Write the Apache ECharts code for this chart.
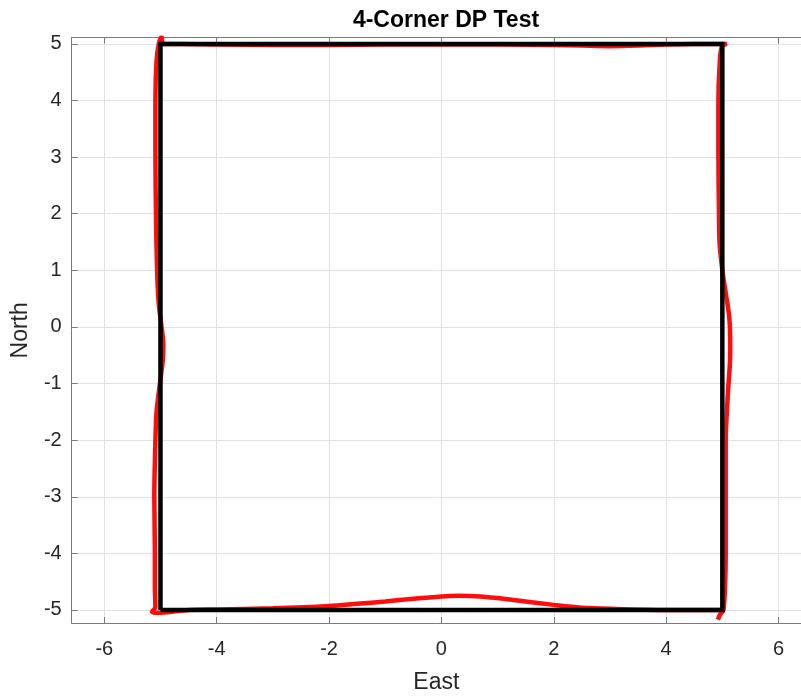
<!DOCTYPE html>
<html>
<head>
<meta charset="utf-8">
<script src="https://cdn.jsdelivr.net/npm/echarts@6/dist/echarts.min.js"></script>
<style>
html,body{margin:0;padding:0;background:#fff;}
#chart{width:801px;height:697px;}
</style>
</head>
<body>
<div id="chart"></div>
<script>
// Reference square (black)
const refEast  = [-5, -5, 5, 5, -5];
const refNorth = [-5, 5, 5, -5, -5];

// Measured trajectory (red)
const redEast = [4.92, 4.96, 5.02, 5.05, 5.06, 5.06, 5.06, 5.08, 5.11, 5.14, 5.14, 5.12, 5.06, 5.0, 4.95, 4.94, 4.93, 4.93, 4.95, 4.99, 5.08,
  5.0, 4.5, 4.0, 3.5, 3.0, 2.5, 2.0, 1.0, 0.0, -1.0, -2.0, -3.0, -4.0, -4.6, -4.95, -4.98, -5.03,
  -5.07, -5.09, -5.09, -5.08, -5.06, -5.03, -4.98, -4.95, -4.96, -5.01, -5.07, -5.09, -5.11, -5.10, -5.10, -5.09, -5.15, -5.05,
  -4.5, -4.0, -3.0, -2.0, -1.5, -1.0, -0.5, 0.0, 0.3, 0.7, 1.0, 1.5, 2.0, 2.5, 3.0, 4.0, 5.0];
const redNorth = [-5.17, -5.08, -5.0, -4.5, -4.0, -3.0, -2.0, -1.5, -1.0, -0.5, -0.2, 0.2, 0.6, 1.0, 1.5, 2.0, 3.0, 4.0, 4.6, 4.95, 5.0,
  5.0, 5.0, 4.99, 4.97, 4.96, 4.97, 4.98, 4.99, 4.99, 4.99, 4.98, 4.98, 4.99, 5.0, 5.0, 5.12, 5.0,
  4.7, 4.0, 3.0, 2.0, 1.0, 0.4, 0.0, -0.3, -0.6, -1.0, -1.5, -2.0, -3.0, -4.0, -4.6, -4.95, -5.03, -5.05,
  -5.0, -4.99, -4.97, -4.93, -4.89, -4.85, -4.8, -4.76, -4.75, -4.76, -4.79, -4.85, -4.91, -4.96, -4.98, -5.0, -5.0];

const titleText = '4-Corner DP Test';
const xName = 'East';
const yName = 'North';
const xMin = -6.58, xMax = 6.40;
const yMin = -5.23, yMax = 5.11;

const pair = (a, b) => a.map((v, i) => [v, b[i]]);

const font = '"Liberation Sans", Arial, Helvetica, sans-serif';
const axisColor = '#7a7a7a';
const textColor = '#262626';
const isInt = v => Math.abs(v - Math.round(v)) < 1e-6;

const chart = echarts.init(document.getElementById('chart'));
chart.setOption({
  animation: false,
  backgroundColor: '#fff',
  title: {
    text: titleText, left: 441, top: 4, textAlign: 'center',
    textStyle: {fontFamily: font, fontSize: 23, fontWeight: 'bold', color: '#000'}
  },
  grid: {left: 71.7, top: 37.7, right: 0, bottom: 74, containLabel: false, outerBoundsMode: 'none'},
  xAxis: [{
    type: 'value', min: xMin, max: xMax, minInterval: 2, maxInterval: 2, splitNumber: 6,
    position: 'bottom',
    name: xName, nameLocation: 'middle', nameGap: 48,
    nameTextStyle: {fontFamily: font, fontSize: 23, color: textColor},
    axisLine: {show: true, onZero: false, lineStyle: {color: axisColor, width: 1}},
    axisTick: {show: true, inside: true, length: 6, lineStyle: {color: axisColor}},
    axisLabel: {fontFamily: font, fontSize: 20, color: textColor, margin: 16, showMinLabel: false, showMaxLabel: false,
      formatter: v => isInt(v) ? String(v) : ''},
    splitLine: {show: true, lineStyle: {color: '#e2e2e2', width: 1}}
  }, {
    type: 'value', min: xMin, max: xMax, minInterval: 2, maxInterval: 2, splitNumber: 6,
    position: 'top',
    axisLine: {show: true, onZero: false, lineStyle: {color: axisColor, width: 1}},
    axisTick: {show: true, inside: true, length: 6, lineStyle: {color: axisColor}},
    axisLabel: {show: false},
    splitLine: {show: false}
  }],
  yAxis: [{
    type: 'value', min: yMin, max: yMax, minInterval: 1, maxInterval: 1, splitNumber: 10,
    position: 'left',
    name: yName, nameLocation: 'middle', nameGap: 40,
    nameTextStyle: {fontFamily: font, fontSize: 23, color: textColor},
    axisLine: {show: true, onZero: false, lineStyle: {color: axisColor, width: 1}},
    axisTick: {show: true, inside: true, length: 6, lineStyle: {color: axisColor}},
    axisLabel: {fontFamily: font, fontSize: 20, color: textColor, margin: 10, showMinLabel: false, showMaxLabel: false,
      formatter: v => isInt(v) ? String(v) : ''},
    splitLine: {show: true, lineStyle: {color: '#e2e2e2', width: 1}}
  }],
  series: [{
    type: 'line', xAxisIndex: 0, yAxisIndex: 0,
    data: pair(redEast, redNorth),
    showSymbol: false, symbol: 'none', smooth: 0.3,
    lineStyle: {color: '#ff0000', width: 4.5, opacity: 0.95},
    z: 2
  }, {
    type: 'line', xAxisIndex: 0, yAxisIndex: 0,
    data: pair(refEast, refNorth),
    showSymbol: false, symbol: 'none',
    lineStyle: {color: '#000000', width: 4.5, join: 'miter'},
    z: 3
  }]
});
</script>
</body>
</html>
